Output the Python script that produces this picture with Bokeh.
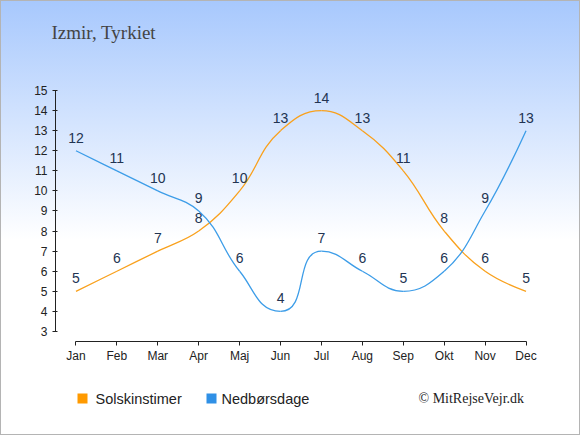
import math
from bokeh.plotting import figure
from bokeh.layouts import column
from bokeh.models import FixedTicker, Range1d
from bokeh.core.properties import value
from bokeh.embed import file_html
from bokeh.resources import INLINE

months = ["Jan", "Feb", "Mar", "Apr", "Maj", "Jun", "Jul", "Aug", "Sep", "Okt", "Nov", "Dec"]
sun = [5, 6, 7, 8, 10, 13, 14, 13, 11, 8, 6, 5]
rain = [12, 11, 10, 9, 6, 4, 7, 6, 5, 6, 9, 13]
y_ticks = list(range(3, 16))

title_text = "Izmir, Tyrkiet"
legend_names = ["Solskinstimer", "Nedbørsdage"]
credit = "© MitRejseVejr.dk"

SUN_COLOR = "#f9a11d"
RAIN_COLOR = "#3d9de8"
SUN_BOX = "#ff9a00"
RAIN_BOX = "#2f90e6"
LABEL_COLOR = "#223452"

W, H = 580, 435
TOP_H = 80          # height of the title strip
BOT_Y = 370         # page y where the legend strip starts
MAIN_H = BOT_Y - TOP_H
L, R = 55, 34
FRAME_TOP, FRAME_BOTTOM = 90, 341
T = FRAME_TOP - TOP_H
B = BOT_Y - FRAME_BOTTOM
XR = (-0.5, 11.5)
YR = (2.5, 15)
fw = W - L - R
fh = FRAME_BOTTOM - FRAME_TOP
sx = fw / (XR[1] - XR[0])
sy = fh / (YR[1] - YR[0])

xs = list(range(len(months)))


def spline(xv, yv):
    P = [(x * sx, -y * sy) for x, y in zip(xv, yv)]
    n = len(P)
    lc = [None] * n
    rc = [None] * n
    s = 1.5
    d = s + 1
    for i in range(n):
        px, py = P[i]
        if 0 < i < n - 1:
            lx, ly = P[i - 1]
            nx, ny = P[i + 1]
            lcx = (s * px + lx) / d
            lcy = (s * py + ly) / d
            rcx = (s * px + nx) / d
            rcy = (s * py + ny) / d
            dl = math.hypot(lcx - px, lcy - py)
            dr = math.hypot(rcx - px, rcy - py)
            la = math.atan2(lcy - py, lcx - px)
            ra = math.atan2(rcy - py, rcx - px)
            ja = math.pi / 2 + (la + ra) / 2
            if abs(la - ja) > math.pi / 2:
                ja -= math.pi
            lcx = px + math.cos(ja) * dl
            lcy = py + math.sin(ja) * dl
            rcx = px + math.cos(math.pi + ja) * dr
            rcy = py + math.sin(math.pi + ja) * dr
            if lcy > max(ly, py):
                lcy = max(ly, py)
                rcy = 2 * py - lcy
            if lcy < min(ly, py):
                lcy = min(ly, py)
                rcy = 2 * py - lcy
            if rcy > max(py, ny):
                rcy = max(py, ny)
                lcy = 2 * py - rcy
            if rcy < min(py, ny):
                rcy = min(py, ny)
                lcy = 2 * py - rcy
            lc[i] = (lcx, lcy)
            rc[i] = (rcx, rcy)
        else:
            lc[i] = (px, py)
            rc[i] = (px, py)
    out = dict(x0=[], y0=[], x1=[], y1=[], cx0=[], cy0=[], cx1=[], cy1=[])
    for i in range(1, n):
        out["x0"].append(P[i - 1][0] / sx)
        out["y0"].append(-P[i - 1][1] / sy)
        out["x1"].append(P[i][0] / sx)
        out["y1"].append(-P[i][1] / sy)
        out["cx0"].append(rc[i - 1][0] / sx)
        out["cy0"].append(-rc[i - 1][1] / sy)
        out["cx1"].append(lc[i][0] / sx)
        out["cy1"].append(-lc[i][1] / sy)
    return out


def strip(height):
    f = figure(width=W, height=height, x_range=Range1d(0, W), y_range=Range1d(height, 0),
               output_backend="svg", toolbar_location=None,
               x_axis_location=None, y_axis_location=None, frame_align=False,
               min_border_left=0, min_border_right=0, min_border_top=0, min_border_bottom=0,
               background_fill_alpha=0, border_fill_alpha=0, outline_line_color=None)
    f.xgrid.visible = False
    f.ygrid.visible = False
    return f


# ---- title strip
top = strip(TOP_H)
top.text(x=[51], y=[32], text=[title_text], text_font=value("Liberation Serif"),
         text_font_size="19px", text_color="#444444", text_baseline="middle", text_align="left")

# ---- main chart
p = figure(width=W, height=MAIN_H, x_range=XR, y_range=YR,
           output_backend="svg", toolbar_location=None, frame_align=False,
           min_border_left=L, min_border_right=R, min_border_top=T, min_border_bottom=B,
           background_fill_alpha=0, border_fill_alpha=0, outline_line_color=None)
p.xgrid.visible = False
p.ygrid.visible = False

xa = p.xaxis[0]
xa.ticker = FixedTicker(ticks=xs)
xa.major_label_overrides = {i: m for i, m in enumerate(months)}
xa.bounds = (0, len(months) - 1)
xa.minor_tick_line_color = None
xa.major_tick_in = 0
xa.major_tick_out = 4
xa.major_label_standoff = 3
xa.axis_line_color = "#222222"
xa.major_tick_line_color = "#222222"
xa.major_label_text_font = "Liberation Sans"
xa.major_label_text_font_size = "12px"
xa.major_label_text_color = "#222222"

ya = p.yaxis[0]
ya.ticker = FixedTicker(ticks=y_ticks)
ya.bounds = (y_ticks[0], y_ticks[-1])
ya.minor_tick_line_color = None
ya.major_tick_in = 2
ya.major_tick_out = 3
ya.major_label_standoff = 5
ya.axis_line_color = "#222222"
ya.major_tick_line_color = "#222222"
ya.major_label_text_font = "Liberation Sans"
ya.major_label_text_font_size = "12px"
ya.major_label_text_color = "#222222"

p.bezier(source=spline(xs, sun), x0="x0", y0="y0", x1="x1", y1="y1",
         cx0="cx0", cy0="cy0", cx1="cx1", cy1="cy1", line_color=SUN_COLOR, line_width=1.3)
p.bezier(source=spline(xs, rain), x0="x0", y0="y0", x1="x1", y1="y1",
         cx0="cx0", cy0="cy0", cx1="cx1", cy1="cy1", line_color=RAIN_COLOR, line_width=1.3)

for series in (sun, rain):
    p.text(x=xs, y=series, text=[str(v) for v in series], y_offset=-13,
           text_align="center", text_baseline="middle",
           text_font=value("Liberation Sans"), text_font_size="14px", text_color=LABEL_COLOR)

# ---- legend strip
bot = strip(H - BOT_Y)
ly = 398 - BOT_Y
bot.rect(x=[82, 211], y=[ly, ly], width=10, height=10, fill_color=[SUN_BOX, RAIN_BOX], line_color=None)
bot.text(x=[95, 221], y=[ly, ly], text=legend_names, text_font=value("Liberation Sans"),
         text_font_size="14.5px", text_color="#222222", text_baseline="middle", text_align="left")
bot.text(x=[418], y=[ly], text=[credit], text_font=value("Liberation Serif"),
         text_font_size="14px", text_color="#222222", text_baseline="middle", text_align="left")

page = column(top, p, bot, spacing=0, width=W, height=H,
              styles={"position": "absolute", "left": "0px", "top": "0px",
                      "background": "linear-gradient(to bottom, #a7c8fd 0px, #ffffff 240px)",
                      "outline": "1px solid #b4b4b4", "outline-offset": "-1px"})

open("out.html", "w").write(file_html(page, INLINE))
